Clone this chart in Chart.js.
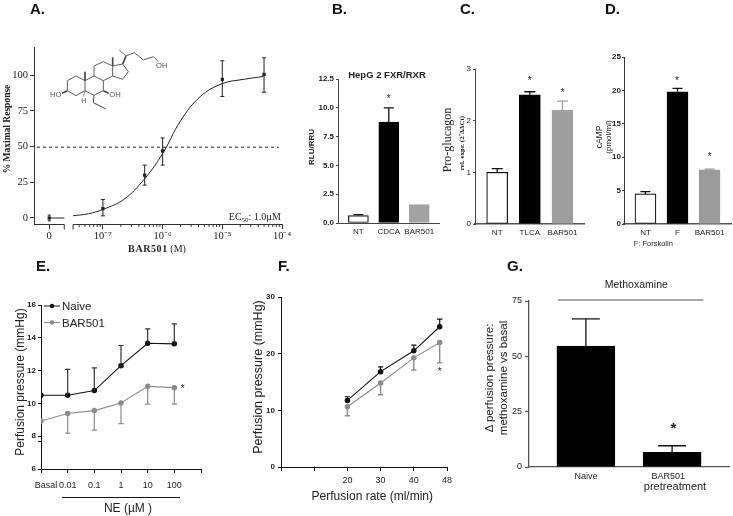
<!DOCTYPE html>
<html>
<head>
<meta charset="utf-8">
<title>BAR501 panels</title>
<script src="https://cdn.jsdelivr.net/npm/chart.js@4"></script>
<style>
  html, body { margin: 0; padding: 0; background: #fff; overflow: hidden; }
  #page { position: relative; width: 733px; height: 516px; filter: blur(0.4px); }
  #page canvas, #page svg { position: absolute; }
  svg text { font-family: "Liberation Sans", Arial, sans-serif; fill: #222; }
  svg .serif { font-family: "Liberation Serif", "Times New Roman", serif; }
  svg .letter { font-size: 15px; font-weight: bold; fill: #111; }
  svg .star { font-size: 10px; text-anchor: middle; }
</style>
</head>
<body>
<div id="page">
  <canvas id="panelA"></canvas>
  <canvas id="panelB"></canvas>
  <canvas id="panelC"></canvas>
  <canvas id="panelD"></canvas>
  <canvas id="panelE"></canvas>
  <canvas id="panelF"></canvas>
  <canvas id="panelG"></canvas>
  <svg width="733" height="516" style="left:0;top:0">
    <!-- panel letters -->
    <text class="letter" x="30" y="14">A.</text>
    <text class="letter" x="332" y="14">B.</text>
    <text class="letter" x="460" y="14">C.</text>
    <text class="letter" x="605" y="14">D.</text>
    <text class="letter" x="36" y="271">E.</text>
    <text class="letter" x="278" y="271">F.</text>
    <text class="letter" x="507" y="271">G.</text>

    <!-- A: titles and structure -->
    <text class="serif" transform="translate(10,129) rotate(-90)" text-anchor="middle" font-size="9.5" font-weight="bold">% Maximal Response</text>
    <text class="serif" x="157" y="252" text-anchor="middle" font-size="10"><tspan font-weight="bold" letter-spacing=".6">BAR501</tspan> (M)</text>
    <text class="serif" x="281" y="220" text-anchor="end" font-size="10">EC<tspan font-size="7" dy="2">50</tspan><tspan dy="-2">: 1.0µM</tspan></text>
    <g transform="translate(40 40) scale(.3333)" fill="none" stroke="#444" stroke-width="2.6">
      <path d="M82 122L108 108L135 122L135 152L108 167L82 152Z"/>
      <path d="M135 122L162 108L190 122L190 152L162 166L135 152"/>
      <path d="M162 108L162 78L190 65L218 78L218 108L190 122"/>
      <path d="M218 78L248 72L265 95L248 118L218 108"/>
      <path d="M258 48L283 38L310 60L340 50L354 64"/>
      <path d="M162 166L160 188L198 207" stroke-width="3"/>
      <path d="M135 122L135 95M218 78L218 52M248 72L258 48M190 152L206 160M82 152L66 160" stroke-width="5"/>
      <path d="M258 48L238 30M135 152L130 170" stroke-dasharray="3 2" stroke="#777" stroke-width="4"/>
      <g stroke="none">
        <text x="30" y="170" font-size="23" style="fill:#555">HO</text>
        <text x="208" y="170" font-size="23" style="fill:#555">OH</text>
        <text x="348" y="85" font-size="23" style="fill:#555">OH</text>
        <text x="124" y="190" font-size="21" style="fill:#555">H</text>
      </g>
    </g>

    <!-- B -->
    <text x="387" y="78" text-anchor="middle" font-size="9.5" font-weight="bold">HepG 2 FXR/RXR</text>
    <text transform="translate(314,147) rotate(-90)" text-anchor="middle" font-size="8" font-weight="bold">RLU/RRU</text>
    <text class="star" x="388.7" y="102">*</text>

    <!-- C -->
    <text class="serif" transform="translate(451,140) rotate(-90)" text-anchor="middle" font-size="12">Pro-glucagon</text>
    <text class="serif" transform="translate(464,143) rotate(-90)" text-anchor="middle" font-size="7" font-weight="bold">rel. expr. (2⁻ΔΔCt)</text>
    <text class="star" x="529.7" y="84">*</text>
    <text class="star" x="562.7" y="96">*</text>

    <!-- D -->
    <text transform="translate(602,137) rotate(-90)" text-anchor="middle" font-size="8.5">cAMP</text>
    <text transform="translate(611,137) rotate(-90)" text-anchor="middle" font-size="8">(pmol/ml)</text>
    <text x="653.3" y="246" text-anchor="middle" font-size="7.5">F: Forskolin</text>
    <text class="star" x="677" y="84">*</text>
    <text class="star" x="709.7" y="160">*</text>

    <!-- E -->
    <line x1="44" x2="60" y1="306" y2="306" stroke="#111"/>
    <circle cx="52" cy="306" r="2.2" fill="#111"/>
    <text x="62" y="310" font-size="11.5">Naive</text>
    <line x1="44" x2="60" y1="322.5" y2="322.5" stroke="#8c8c8c"/>
    <circle cx="52" cy="322.5" r="2.2" fill="#8c8c8c"/>
    <text x="62" y="326.5" font-size="11.5">BAR501</text>
    <text transform="translate(23.5,382) rotate(-90)" text-anchor="middle" font-size="12">Perfusion pressure (mmHg)</text>
    <line x1="62" x2="180" y1="497.5" y2="497.5" stroke="#111"/>
    <text x="128" y="512" text-anchor="middle" font-size="12">NE (µM )</text>
    <text class="star" x="182.7" y="392">*</text>

    <!-- F -->
    <text transform="translate(261.5,377) rotate(-90)" text-anchor="middle" font-size="12.5">Perfusion pressure (mmHg)</text>
    <text x="372.3" y="499.5" text-anchor="middle" font-size="12">Perfusion rate (ml/min)</text>
    <text class="star" x="439.7" y="375">*</text>

    <!-- G -->
    <text x="636.3" y="288" text-anchor="middle" font-size="10.5">Methoxamine</text>
    <line x1="558" x2="703.3" y1="300" y2="300" stroke="#555"/>
    <text transform="translate(493,378) rotate(-90)" text-anchor="middle" font-size="11.5">Δ perfusion pressure:</text>
    <text transform="translate(507,378) rotate(-90)" text-anchor="middle" font-size="11.5">methoxamine  vs basal</text>
    <text x="673.3" y="433" text-anchor="middle" font-size="15" font-weight="bold">*</text>
    <text x="675" y="490" text-anchor="middle" font-size="11">pretreatment</text>
  </svg>
</div>
<script>
// Panel A, dose response (x in mol/l, the "0" dose sits left of the axis break)
const doseZero = 1.26e-8;
const doseBreakEnd = 2.25e-8;
const doseCurveStart = 3.16e-8;
const doseValues = [1e-7, 5e-7, 1e-6, 1e-5, 5e-5];
const doseResponse = [6.5, 30, 47, 97, 100.5];
const doseErrorUp = [13, 37, 56, 110, 112];
const doseErrorDown = [1.5, 23, 37, 85, 88];
const zeroResponse = [0, 0];
const curveDoses = [3.16e-8, 5.75e-8, 1e-7, 2.24e-7, 4.9e-7, 1e-6, 2e-6, 4.3e-6, 1e-5, 2.3e-5, 4.9e-5];
const curveResponse = [1.6, 3, 6, 13, 27, 45, 68, 85, 94, 97, 99];
const halfLineDoses = [7.85e-9, 8.9e-5];
const halfLineResponse = [49.5, 49.5];
const panelAXTicks = [doseZero, 1e-7, 1e-6, 1e-5, 1e-4];
const panelAXLabels = ['0', '10⁻⁷', '10⁻⁶', '10⁻⁵', '10⁻⁴'];
const panelAYTicks = [0, 25, 50, 75, 100];

// Panel B
const panelBCategories = ['NT', 'CDCA', 'BAR501'];
const panelBValues = [0.65, 8.75, 1.6];
const panelBErrorUp = [0.72, 10, null];
const panelBYTicks = [0, 2.5, 5, 7.5, 10, 12.5];
const panelBYLabels = ['0.0', '2.5', '5.0', '7.5', '10.0', '12.5'];

// Panel C
const panelCCategories = ['NT', 'TLCA', 'BAR501'];
const panelCValues = [1, 2.5, 2.2];
const panelCErrorUp = [1.07, 2.56, 2.38];
const panelCYTicks = [0, 1, 2, 3];

// Panel D
const panelDCategories = ['NT', 'F', 'BAR501'];
const panelDValues = [4.5, 19.8, 8.1];
const panelDErrorUp = [4.85, 20.3, 8.2];
const panelDYTicks = [0, 5, 10, 15, 20, 25];

// Panel E
const panelEXLabels = ['    Basal', '0.01', '0.1', '1', '10', '100', ''];
const panelENaive = [10.5, 10.5, 10.78, 12.3, 13.67, 13.63];
const panelENaiveUp = [null, 12.07, 12.17, 13.53, 14.54, 14.85];
const panelEBar501 = [8.93, 9.38, 9.56, 10.03, 11.04, 10.96];
const panelEBar501Down = [null, 8.19, 8.37, 8.77, 9.95, 9.95];
const panelEYTicks = [6, 7.67, 8, 10, 12, 14, 16];
const panelEYLabels = ['6', '', '8', '10', '12', '14', '16'];

// Panel F
const panelFRates = [20, 30, 40, 47.8];
const panelFNaive = [11.75, 16.83, 20.5, 24.75];
const panelFNaiveUp = [12.4, 17.66, 21.5, 26.1];
const panelFBar501 = [10.63, 14.83, 19.26, 21.97];
const panelFBar501Down = [9.04, 12.76, 17.13, 18.37];
const panelFXTicks = [0, 10, 20, 30, 40, 50];
const panelFXLabels = ['', '', '20', '30', '40', '48'];
const panelFYTicks = [0, 10, 20, 30];

// Panel G
const panelGCategories = ['Naive', 'BAR501   '];
const panelGValues = [54.6, 6.6];
const panelGErrorUp = [66.9, 9.6];
const panelGYTicks = [0, 25, 50, 75];

const sans = '"Liberation Sans", Arial, sans-serif';
const serif = '"Liberation Serif", "Times New Roman", serif';
const INK = '#222';

Chart.defaults.animation = false;
Chart.defaults.responsive = false;
Chart.defaults.plugins.legend.display = false;
Chart.defaults.plugins.tooltip.enabled = false;

// Chart.js has no error bars of its own, so whiskers are drawn through the scales
Chart.register({
    id: 'errorBars',
    afterDatasetsDraw(chart) {
        const ctx = chart.ctx;
        const yScale = chart.scales.y;
        chart.data.datasets.forEach((ds, d) => {
            if (!ds.errorUp && !ds.errorDown) return;
            const meta = chart.getDatasetMeta(d);
            meta.data.forEach((el, i) => {
                const color = Array.isArray(ds.errorColor) ? ds.errorColor[i] : ds.errorColor;
                [ds.errorUp && ds.errorUp[i], ds.errorDown && ds.errorDown[i]].forEach(end => {
                    if (end === null || end === undefined) return;
                    const yValue = yScale.getPixelForValue(ds.data[i].y);
                    const yEnd = yScale.getPixelForValue(end);
                    ctx.save();
                    ctx.strokeStyle = color;
                    ctx.lineWidth = ds.errorWidth;
                    ctx.beginPath();
                    ctx.moveTo(el.x, yValue);
                    ctx.lineTo(el.x, yEnd);
                    ctx.moveTo(el.x - ds.errorCap, yEnd);
                    ctx.lineTo(el.x + ds.errorCap, yEnd);
                    ctx.stroke();
                    ctx.restore();
                });
            });
        });
    }
});

// panel A's x axis has a break and minor log ticks
const brokenLogAxis = {
    id: 'brokenLogAxis',
    afterDraw(chart) {
        const ctx = chart.ctx;
        const x = chart.scales.x;
        const y = chart.chartArea.bottom + 0.5;
        ctx.save();
        ctx.strokeStyle = '#333';
        ctx.lineWidth = 1;
        ctx.beginPath();
        ctx.moveTo(x.left, y);
        ctx.lineTo(x.getPixelForValue(doseBreakEnd), y);
        ctx.moveTo(x.getPixelForValue(doseCurveStart), y);
        ctx.lineTo(x.right, y);
        [doseBreakEnd, doseCurveStart].forEach(v => {
            const px = x.getPixelForValue(v);
            ctx.moveTo(px, y);
            ctx.lineTo(px, y + 5);
        });
        [1e-8, 1e-7, 1e-6, 1e-5].forEach(decade => {
            for (let m = 2; m < 10; m++) {
                if (m * decade < doseCurveStart) continue;
                const px = x.getPixelForValue(m * decade);
                ctx.moveTo(px, y);
                ctx.lineTo(px, y + 2.5);
            }
        });
        ctx.stroke();
        ctx.restore();
    }
};

function xy(xs, ys) {
    return ys.map((y, i) => ({ x: xs[i], y }));
}

function axis(o) {
    return {
        type: o.type || 'linear',
        min: o.min,
        max: o.max,
        offset: false,
        afterBuildTicks: s => { s.ticks = o.ticks.map(value => ({ value })); },
        ticks: {
            autoSkip: false,
            maxRotation: 0,
            padding: o.pad === undefined ? 1 : o.pad,
            font: o.font,
            color: o.color || INK,
            callback: (v, i) => (o.labels ? o.labels[i] : String(v))
        },
        grid: {
            offset: false,
            drawOnChartArea: false,
            drawTicks: o.tickLength !== 0,
            tickLength: o.tickLength === undefined ? 4 : o.tickLength,
            tickColor: o.line || '#333',
            tickWidth: o.width || 1
        },
        border: { display: o.border !== false, color: o.line || '#333', width: o.width || 1 }
    };
}

// rect is the canvas on the page, plot is where the chart area has to land
function panel(id, rect, plot, type, datasets, xAxis, yAxis, plugins) {
    const canvas = document.getElementById(id);
    canvas.width = rect.r - rect.l;
    canvas.height = rect.b - rect.t;
    canvas.style.left = rect.l + 'px';
    canvas.style.top = rect.t + 'px';
    xAxis.afterFit = s => { s.height = rect.b - plot.b; };
    yAxis.afterFit = s => { s.width = plot.l - rect.l; };
    return new Chart(canvas, {
        type,
        data: { datasets },
        options: {
            layout: { padding: { top: plot.t - rect.t, right: rect.r - plot.r, left: 0, bottom: 0 } },
            scales: { x: xAxis, y: yAxis }
        },
        plugins: plugins || []
    });
}

function barSet(categories, values, errorUp, fills, thickness, errorCap, errorColor) {
    return [{
        data: xy(categories.map((c, i) => i), values),
        backgroundColor: fills,
        borderColor: fills.map(f => (f === '#fff' ? '#111' : f)),
        borderWidth: 1.2,
        borderSkipped: false,
        barThickness: thickness,
        errorUp,
        errorCap,
        errorColor,
        errorWidth: 1.3
    }];
}

function lineSet(xs, ys, color, opts) {
    return Object.assign({
        data: xy(xs, ys),
        showLine: true,
        borderColor: color,
        backgroundColor: color,
        borderWidth: 1.1,
        pointRadius: 2.2,
        errorColor: color,
        errorCap: 2.6,
        errorWidth: 1.2
    }, opts);
}

const tickSmallBold = { family: sans, size: 8, weight: 'bold' };
const tickSmall = { family: sans, size: 8 };
const tickMedium = { family: sans, size: 9 };

panel('panelA', { l: 0, t: 35, r: 300, b: 256 }, { l: 34, t: 47, r: 282, b: 224 }, 'scatter', [
    lineSet(halfLineDoses, halfLineResponse, '#222', { pointRadius: 0, borderDash: [3, 3], borderWidth: 1 }),
    lineSet(curveDoses, curveResponse, '#222', { pointRadius: 0, tension: 0.4, borderWidth: 1 }),
    lineSet([doseZero, doseBreakEnd], zeroResponse, '#222', { pointRadius: 0, borderWidth: 1 }),
    lineSet([doseZero], [0], '#222', { showLine: false, pointStyle: 'rect', pointRadius: 1.5, errorUp: [2], errorDown: [-2], errorCap: 1.5, errorWidth: 1 }),
    lineSet(doseValues, doseResponse, '#222', { showLine: false, pointStyle: 'rect', pointRadius: 1.5, errorUp: doseErrorUp, errorDown: doseErrorDown, errorCap: 2, errorWidth: 1 })
], axis({
    type: 'logarithmic', min: 7e-9, max: 1e-4, ticks: panelAXTicks, labels: panelAXLabels,
    font: { family: serif, size: 10.5 }, tickLength: 5, border: false
}), axis({
    min: -4.2, max: 119.6, ticks: panelAYTicks, font: { family: serif, size: 10.5 }, pad: 2
}), [brokenLogAxis]);

panel('panelB', { l: 305, t: 70, r: 450, b: 245 }, { l: 338, t: 79, r: 439, b: 223 }, 'bar',
    barSet(panelBCategories, panelBValues, panelBErrorUp, ['#fff', '#000', '#a2a2a2'], 20, 5, ['#111', '#111', '#a2a2a2']),
    axis({ min: -0.67, max: 2.65, ticks: [0, 1, 2], labels: panelBCategories, font: tickSmall, tickLength: 0, pad: 4, line: '#444' }),
    axis({ min: 0, max: 12.5, ticks: panelBYTicks, labels: panelBYLabels, font: tickSmallBold, tickLength: 2, pad: 2, line: '#444' }));

panel('panelC', { l: 445, t: 60, r: 592, b: 245 }, { l: 475, t: 69, r: 584, b: 224 }, 'bar',
    barSet(panelCCategories, panelCValues, panelCErrorUp, ['#fff', '#000', '#9e9e9e'], 21, 5.5, ['#111', '#111', '#9e9e9e']),
    axis({ min: -0.68, max: 2.66, ticks: [0, 1, 2], labels: panelCCategories, font: tickSmall, tickLength: 0, pad: 4, line: '#555', width: 1.5 }),
    axis({ min: 0, max: 3, ticks: panelCYTicks, font: tickSmall, tickLength: 2, pad: 2, line: '#444' }));

panel('panelD', { l: 595, t: 50, r: 733, b: 245 }, { l: 624, t: 57, r: 731, b: 224 }, 'bar',
    barSet(panelDCategories, panelDValues, panelDErrorUp, ['#fff', '#000', '#9b9b9b'], 21, 5, ['#111', '#111', '#9b9b9b']),
    axis({ min: -0.67, max: 2.67, ticks: [0, 1, 2], labels: panelDCategories, font: tickSmall, tickLength: 0, pad: 4, line: '#555', width: 1.5 }),
    axis({ min: 0, max: 25, ticks: panelDYTicks, font: tickSmallBold, tickLength: 2, pad: 1, line: '#333' }));

const panelEX = panelENaive.map((v, i) => i);
panel('panelE', { l: 10, t: 295, r: 215, b: 495 }, { l: 41, t: 305, r: 201, b: 469 }, 'scatter', [
    lineSet(panelEX, panelEBar501, '#8c8c8c', { errorDown: panelEBar501Down }),
    lineSet(panelEX, panelENaive, '#111', { errorUp: panelENaiveUp, errorColor: '#333' })
], axis({ min: 0, max: 6, ticks: [0, 1, 2, 3, 4, 5, 6], labels: panelEXLabels, font: tickMedium, pad: 7, line: '#111' }),
    axis({ min: 6, max: 16, ticks: panelEYTicks, labels: panelEYLabels, font: tickSmallBold, tickLength: 3, pad: 2, line: '#111' }));

panel('panelF', { l: 255, t: 288, r: 465, b: 490 }, { l: 281, t: 297, r: 447, b: 467 }, 'scatter', [
    lineSet(panelFRates, panelFBar501, '#8c8c8c', { errorDown: panelFBar501Down, errorWidth: 1.4 }),
    lineSet(panelFRates, panelFNaive, '#111', { errorUp: panelFNaiveUp })
], axis({ min: 0, max: 50, ticks: panelFXTicks, labels: panelFXLabels, font: tickMedium, pad: 4, line: '#111' }),
    axis({ min: 0, max: 30, ticks: panelFYTicks, font: tickSmallBold, tickLength: 3, pad: 3, line: '#111' }));

panel('panelG', { l: 510, t: 292, r: 733, b: 485 }, { l: 529, t: 301, r: 729, b: 467 }, 'bar',
    barSet(panelGCategories, panelGValues, panelGErrorUp, ['#000', '#000'], 58, 14, ['#111', '#111']),
    axis({ min: -0.66, max: 1.66, ticks: [0, 1], labels: panelGCategories, font: tickMedium, tickLength: 0, pad: 4, line: '#555', width: 1.3 }),
    axis({ min: 0, max: 75, ticks: panelGYTicks, font: tickMedium, pad: 3, line: '#555', width: 1.3 }));
</script>
</body>
</html>
